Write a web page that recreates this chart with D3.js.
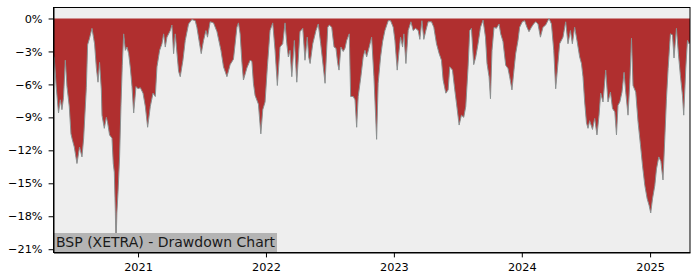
<!DOCTYPE html>
<html lang="en">
  <head>
    <meta charset="utf-8">
    <title>BSP (XETRA) - Drawdown Chart</title>
    <script src="https://d3js.org/d3.v7.min.js"></script>
    <style type="text/css">
      body {
        margin: 0;
        background-color: #FFFFFF;
        font-family: 'DejaVu Sans', sans-serif;
      }
      .axis text {
        font-size: 11.3px;
        fill: #000000;
        font-family: 'DejaVu Sans', sans-serif;
      }
      .axis line, .axis path {
        stroke: #000000;
        stroke-width: 1;
      }
      .area {
        fill: #B02F2F;
      }
      .line {
        fill: none;
        stroke: #8A9090;
        stroke-width: 1;
      }
      .title-text {
        font-size: 14px;
        fill: #1A1A1A;
      }
    </style>
  </head>
  <body>
  </body>
  <script type="text/javascript">
    // Data (decimal year -> drawdown in %)
    var years = [
      2020.341, 2020.347, 2020.362, 2020.380, 2020.394, 2020.407, 2020.419, 2020.433, 2020.446, 2020.464,
      2020.477, 2020.487, 2020.503, 2020.524, 2020.544, 2020.563, 2020.576, 2020.597, 2020.607, 2020.622,
      2020.641, 2020.654, 2020.661, 2020.675, 2020.688, 2020.700, 2020.714, 2020.719, 2020.737, 2020.753,
      2020.763, 2020.778, 2020.797, 2020.807, 2020.815, 2020.823, 2020.828, 2020.835, 2020.844, 2020.856,
      2020.867, 2020.877, 2020.888, 2020.901, 2020.914, 2020.927, 2020.940, 2020.953, 2020.966, 2020.984,
      2021.000, 2021.018, 2021.039, 2021.057, 2021.075, 2021.096, 2021.117, 2021.135, 2021.148, 2021.169,
      2021.187, 2021.200, 2021.213, 2021.226, 2021.252, 2021.265, 2021.278, 2021.291, 2021.317, 2021.330,
      2021.351, 2021.369, 2021.395, 2021.421, 2021.447, 2021.460, 2021.481, 2021.494, 2021.512, 2021.531,
      2021.543, 2021.564, 2021.590, 2021.617, 2021.648, 2021.668, 2021.695, 2021.720, 2021.746, 2021.773,
      2021.785, 2021.798, 2021.812, 2021.824, 2021.851, 2021.876, 2021.890, 2021.902, 2021.915, 2021.941,
      2021.960, 2021.975, 2021.993, 2022.011, 2022.032, 2022.053, 2022.071, 2022.089, 2022.110, 2022.131,
      2022.149, 2022.163, 2022.175, 2022.188, 2022.202, 2022.222, 2022.241, 2022.266, 2022.288, 2022.305,
      2022.323, 2022.334, 2022.345, 2022.366, 2022.391, 2022.409, 2022.428, 2022.448, 2022.462, 2022.483,
      2022.495, 2022.514, 2022.532, 2022.547, 2022.561, 2022.571, 2022.586, 2022.604, 2022.618, 2022.631,
      2022.651, 2022.662, 2022.682, 2022.696, 2022.709, 2022.721, 2022.742, 2022.760, 2022.774, 2022.787,
      2022.807, 2022.826, 2022.844, 2022.865, 2022.877, 2022.896, 2022.912, 2022.930, 2022.956, 2022.974,
      2022.995, 2023.008, 2023.026, 2023.041, 2023.052, 2023.068, 2023.078, 2023.094, 2023.112, 2023.133,
      2023.151, 2023.169, 2023.190, 2023.203, 2023.219, 2023.234, 2023.250, 2023.268, 2023.294, 2023.312,
      2023.333, 2023.354, 2023.372, 2023.385, 2023.406, 2023.424, 2023.437, 2023.458, 2023.476, 2023.489,
      2023.510, 2023.528, 2023.546, 2023.562, 2023.580, 2023.593, 2023.606, 2023.624, 2023.640, 2023.658,
      2023.677, 2023.697, 2023.716, 2023.728, 2023.744, 2023.755, 2023.767, 2023.783, 2023.801, 2023.822,
      2023.835, 2023.853, 2023.874, 2023.892, 2023.905, 2023.923, 2023.936, 2023.952, 2023.970, 2023.983,
      2024.004, 2024.022, 2024.040, 2024.056, 2024.075, 2024.092, 2024.108, 2024.126, 2024.145, 2024.165,
      2024.186, 2024.212, 2024.231, 2024.249, 2024.264, 2024.277, 2024.295, 2024.321, 2024.342, 2024.360,
      2024.379, 2024.394, 2024.412, 2024.430, 2024.451, 2024.465, 2024.477, 2024.490, 2024.504, 2024.516,
      2024.529, 2024.551, 2024.568, 2024.586, 2024.602, 2024.615, 2024.633, 2024.654, 2024.672, 2024.691,
      2024.707, 2024.725, 2024.738, 2024.750, 2024.764, 2024.781, 2024.797, 2024.810, 2024.828, 2024.842,
      2024.855, 2024.867, 2024.888, 2024.906, 2024.925, 2024.941, 2024.959, 2024.977, 2024.992, 2025.005,
      2025.019, 2025.037, 2025.050, 2025.068, 2025.084, 2025.101, 2025.115, 2025.128, 2025.141, 2025.159,
      2025.175, 2025.187, 2025.206, 2025.222, 2025.237, 2025.253, 2025.263, 2025.279, 2025.292, 2025.304,
      2025.312
    ];

    var drawdown = [
      -3.4, -3.6, -6.2, -8.6, -7.4, -8.3, -7.2, -3.8, -6.2, -8.0,
      -10.5, -11.0, -11.7, -13.2, -11.7, -12.6, -10.9, -6.3, -2.4, -1.8,
      -0.9, -1.8, -2.3, -4.5, -5.8, -4.0, -6.5, -8.8, -10.0, -9.0,
      -9.5, -10.6, -10.9, -13.2, -14.0, -17.5, -20.8, -17.7, -15.8, -12.7,
      -7.9, -4.3, -1.4, -2.9, -2.6, -3.2, -4.5, -6.2, -8.6, -6.2,
      -6.4, -6.3, -6.8, -8.0, -9.9, -8.0, -6.8, -7.1, -4.4, -2.9,
      -2.3, -1.4, -2.6, -1.7, -1.1, -0.6, -3.2, -1.4, -4.8, -5.3,
      -3.8, -2.0, -0.5, -0.1, -0.2, -0.8, -2.3, -3.2, -2.0, -1.1,
      -1.7, -0.3, -0.4, -1.2, -2.9, -4.4, -5.3, -4.2, -3.7, -0.8,
      -0.4, -1.4, -4.0, -5.6, -4.5, -3.8, -3.9, -5.9, -7.0, -7.8,
      -10.5, -8.3, -7.6, -4.4, -1.1, -0.4, -2.9, -6.1, -2.6, -2.3,
      -0.4, -2.3, -3.5, -2.9, -5.3, -2.0, -5.8, -1.2, -0.9, -3.8,
      -1.7, -3.5, -4.1, -2.3, -1.1, -0.5, -2.3, -4.4, -5.9, -0.8,
      -0.6, -0.8, -2.6, -2.7, -4.1, -4.7, -2.6, -3.0, -2.7, -2.0,
      -1.4, -7.1, -7.1, -7.4, -9.9, -7.1, -5.3, -3.5, -2.9, -3.5,
      -2.6, -1.7, -5.3, -11.0, -5.9, -3.5, -2.1, -1.1, -0.2, -0.2,
      -0.8, -2.0, -4.7, -2.9, -1.7, -2.6, -1.4, -4.1, -1.1, -0.3,
      -1.1, -0.9, -1.1, -1.9, -0.2, -1.9, -1.1, -0.3, -0.3, -0.8,
      -2.3, -3.2, -3.8, -5.6, -6.8, -6.5, -4.4, -4.7, -6.5, -7.7,
      -9.7, -8.8, -9.0, -8.0, -4.4, -1.1, -0.9, -4.2, -3.5, -2.3,
      -0.8, -0.15, -1.7, -4.1, -5.3, -7.3, -2.9, -0.8, -0.9, -0.5,
      -1.4, -2.1, -4.25, -4.55, -5.3, -6.5, -5.0, -3.2, -2.0, -0.8,
      -0.3, -0.2, -0.8, -1.2, -0.8, -0.5, -0.3, -0.5, -1.7, -0.8,
      -0.6, 0.0, -0.5, -2.9, -6.4, -4.7, -2.3, -1.7, -0.3, -2.3,
      -1.1, -2.3, -0.8, -2.0, -3.5, -4.1, -5.3, -7.6, -9.5, -10.0,
      -9.3, -10.1, -9.1, -10.6, -8.8, -6.8, -7.6, -4.7, -7.6, -6.7,
      -8.2, -8.5, -10.6, -7.9, -7.6, -6.7, -4.9, -6.7, -8.8, -5.8,
      -1.8, -6.1, -6.7, -9.4, -11.5, -13.4, -15.2, -16.4, -17.0, -17.7,
      -16.4, -15.2, -13.7, -12.6, -13.0, -14.7, -10.9, -7.3, -4.55, -1.4,
      -1.5, -3.6, -0.9, -3.3, -5.2, -7.0, -8.8, -4.55, -2.0, -2.3,
      -2.2
    ];

    var yTicks = [0, -3, -6, -9, -12, -15, -18, -21];
    var titleLabel = "BSP (XETRA) - Drawdown Chart";

    // decimal year -> Date
    function toDate(t) {
      var y = Math.floor(t),
          start = Date.UTC(y, 0, 1),
          end = Date.UTC(y + 1, 0, 1);
      return new Date(start + (t - y) * (end - start));
    }

    var dataset = years.map(function(t, i) {
      return {date: toDate(t), y: drawdown[i]};
    });

    var margin = {top: 7.5, right: 10, bottom: 27.5, left: 53.5},
        width = 700 - margin.left - margin.right,
        height = 280 - margin.top - margin.bottom;

    var xScale = d3.scaleUtc()
        .domain(d3.extent(dataset, function(d) { return d.date; }))
        .range([0, width]);

    var yScale = d3.scaleLinear()
        .domain([-21.3, 1.0])
        .range([height, 0]);

    var svg = d3.select("body").append("svg")
        .attr("width", 700)
        .attr("height", 280)
      .append("g")
        .attr("transform", "translate(" + margin.left + "," + margin.top + ")");

    svg.append("rect")
        .attr("width", width)
        .attr("height", height)
        .attr("fill", "#EEEEEE");

    svg.append("clipPath")
        .attr("id", "clip")
      .append("rect")
        .attr("width", width)
        .attr("height", height);

    var area = d3.area()
        .x(function(d) { return xScale(d.date); })
        .y0(yScale(0))
        .y1(function(d) { return yScale(d.y); });

    var line = d3.line()
        .x(function(d) { return xScale(d.date); })
        .y(function(d) { return yScale(d.y); });

    svg.append("path")
        .datum(dataset)
        .attr("class", "area")
        .attr("clip-path", "url(#clip)")
        .attr("d", area);

    svg.append("path")
        .datum(dataset)
        .attr("class", "line")
        .attr("clip-path", "url(#clip)")
        .attr("d", line);

    // title box, bottom left
    var label = svg.append("g");
    var labelText = label.append("text")
        .attr("class", "title-text")
        .attr("x", 2.5)
        .attr("y", height - 5.5)
        .text(titleLabel);
    var bb = labelText.node().getBBox();
    label.insert("rect", "text")
        .attr("x", 0)
        .attr("y", height - 19.5)
        .attr("width", bb.width + 4)
        .attr("height", 19.5)
        .attr("fill", "#B4B4B4");

    svg.append("g")
        .attr("class", "axis")
        .attr("transform", "translate(0," + height + ")")
        .call(d3.axisBottom(xScale)
            .ticks(d3.utcYear.every(1))
            .tickFormat(d3.utcFormat("%Y"))
            .tickSize(4.9)
            .tickPadding(6)
            .tickSizeOuter(0));

    svg.append("g")
        .attr("class", "axis")
        .call(d3.axisLeft(yScale)
            .tickValues(yTicks)
            .tickFormat(function(d) { return d3.format("d")(d) + "%"; })
            .tickSize(4.9)
            .tickPadding(6)
            .tickSizeOuter(0));

    // frame
    svg.append("rect")
        .attr("width", width)
        .attr("height", height)
        .attr("fill", "none")
        .attr("stroke", "#000000")
        .attr("stroke-width", 1);

  </script>
</html>
